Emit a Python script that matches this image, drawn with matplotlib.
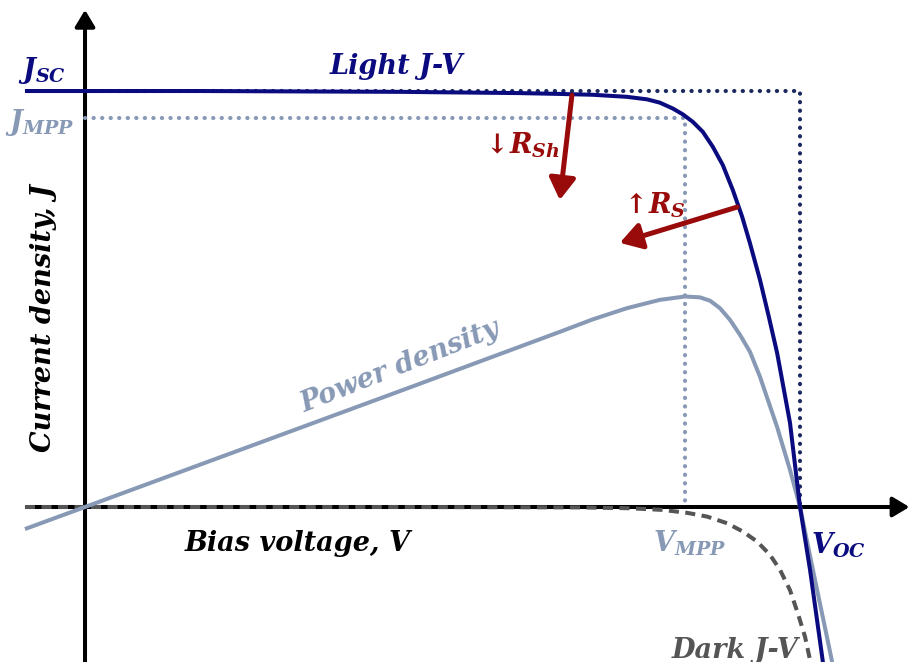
import matplotlib
matplotlib.use("Agg")
import matplotlib.pyplot as plt

plt.rcParams["mathtext.fontset"] = "custom"
plt.rcParams["mathtext.it"] = "DejaVu Serif:italic:bold"
plt.rcParams["mathtext.rm"] = "DejaVu Serif:bold"
plt.rcParams["mathtext.bf"] = "DejaVu Serif:italic:bold"

# curvas (V normalizado por Voc, J normalizado por Jsc)
v_luz = [-0.084, 0.161, 0.441, 0.608, 0.664, 0.710, 0.758, 0.786, 0.804, 0.822,
         0.836, 0.850, 0.864, 0.878, 0.892, 0.906, 0.919, 0.930, 0.944, 0.956,
         0.968, 0.986, 1.000, 1.014, 1.032]
j_luz = [1.000, 1.000, 0.998, 0.995, 0.993, 0.991, 0.986, 0.980, 0.972, 0.958,
         0.944, 0.926, 0.902, 0.866, 0.822, 0.762, 0.698, 0.634, 0.546, 0.460,
         0.370, 0.202, 0.000, -0.151, -0.373]

v_pot = [-0.084, 0.0, 0.441, 0.664, 0.710, 0.758, 0.804, 0.839, 0.860, 0.874,
         0.888, 0.902, 0.916, 0.930, 0.944, 0.968, 0.986, 1.000, 1.018, 1.045]
p_pot = [-0.053, 0.0, 0.279, 0.421, 0.451, 0.478, 0.498, 0.506, 0.504, 0.496,
         0.478, 0.450, 0.414, 0.373, 0.313, 0.192, 0.089, 0.000, -0.151, -0.373]

v_esc = [-0.084, 0.441, 0.692, 0.762, 0.808, 0.842, 0.870, 0.898, 0.920, 0.940,
         0.958, 0.972, 0.986, 0.997, 1.007, 1.014]
j_esc = [0.0, 0.0, -0.001, -0.003, -0.007, -0.014, -0.023, -0.039, -0.059, -0.083,
         -0.115, -0.151, -0.200, -0.256, -0.312, -0.368]

jsc, voc = 1.0, 1.0
vmpp, jmpp = 0.839, 0.935

azul = "#0b0b80"
azul_pont = "#1b2a5e"
cinza_azul = "#8799b5"
cinza = "#555555"
vermelho = "#990a0a"

fig = plt.figure(figsize=(9.12, 6.62), dpi=100)
ax = fig.add_axes([0, 0, 1, 1])
ax.set_xlim(-0.1189, 1.1566)
ax.set_ylim(-0.3726, 1.2188)
ax.axis("off")

# eixos com setas
seta_eixo = dict(arrowstyle="-|>,head_length=0.5,head_width=0.3", lw=2.9,
                 color="black", shrinkA=0, shrinkB=0, mutation_scale=20)
ax.annotate("", xy=(1.153, 0), xytext=(-0.081, 0), arrowprops=seta_eixo, zorder=1)
ax.annotate("", xy=(0, 1.195), xytext=(0, -0.38), arrowprops=seta_eixo, zorder=1)

# linhas pontilhadas
pont = dict(lw=3.0, linestyle=(0, (0.05, 2.0)), dash_capstyle="round", zorder=1.5)
ax.plot([0, voc, voc], [jsc, jsc, 0], color=azul_pont, **pont)
ax.plot([0, vmpp, vmpp], [jmpp, jmpp, 0], color=cinza_azul, **pont)

ax.plot(v_esc, j_esc, color=cinza, lw=2.9, linestyle=(0, (2.5, 1.6)), zorder=2)
ax.plot(v_pot, p_pot, color=cinza_azul, lw=2.9, solid_capstyle="butt", zorder=2)
ax.plot(v_luz, j_luz, color=azul, lw=2.9, solid_capstyle="butt", zorder=2.5)

seta_r = dict(arrowstyle="-|>,head_length=0.65,head_width=0.4", lw=3.6,
              color=vermelho, shrinkA=0, shrinkB=0, mutation_scale=20)
ax.annotate("", xy=(0.664, 0.738), xytext=(0.681, 0.990), arrowprops=seta_r)
ax.annotate("", xy=(0.748, 0.635), xytext=(0.912, 0.721), arrowprops=seta_r)

fonte = dict(family="DejaVu Serif", weight="bold", style="italic", fontsize=19.5,
             ha="center", va="center")
ax.text(-0.060, 1.050, r"$J_{SC}$", color=azul, **fonte)
ax.text(-0.063, 0.925, r"$J_{MPP}$", color=cinza_azul, **fonte)
ax.text(0.436, 1.058, "Light J-V", color=azul, **fonte)
ax.text(0.608, 0.870, r"$\downarrow\!R_{Sh}$", color=vermelho, **fonte)
ax.text(0.793, 0.726, r"$\uparrow\!R_{S}$", color=vermelho, **fonte)
ax.text(0.441, 0.337, "Power density", color=cinza_azul, rotation=21.5,
        rotation_mode="anchor", **fonte)
ax.text(0.297, -0.087, "Bias voltage, V", color="black", **fonte)
ax.text(0.846, -0.087, r"$V_{MPP}$", color=cinza_azul, **fonte)
ax.text(1.053, -0.091, r"$V_{OC}$", color=azul, **fonte)
ax.text(0.909, -0.344, "Dark J-V", color=cinza, **fonte)
ax.text(-0.058, 0.455, "Current density, J", color="black", rotation=90, **fonte)

fig.savefig("out.png", dpi=100)
